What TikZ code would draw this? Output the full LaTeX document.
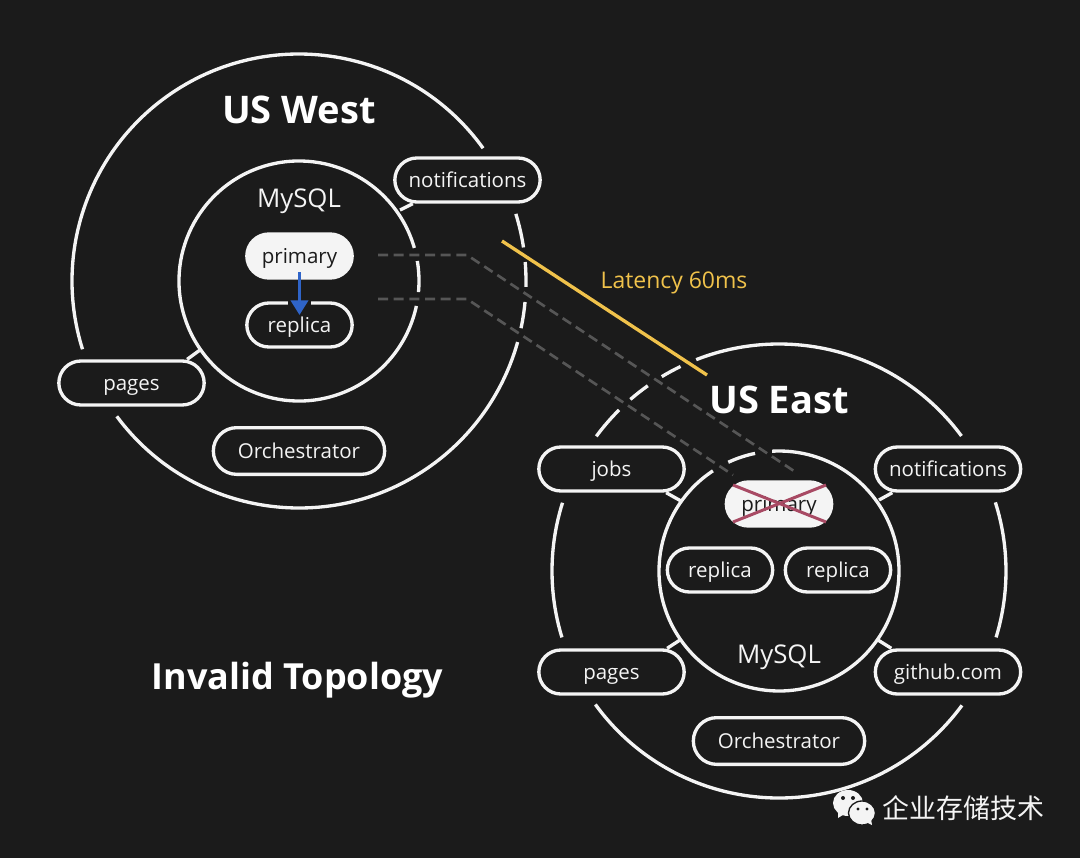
\documentclass[tikz,border=0pt]{standalone}
\usepackage{fontspec}
\setmainfont{Open Sans}
\newfontfamily\cjkfont{Noto Sans CJK SC}
\usetikzlibrary{shapes.misc,arrows.meta,calc}
\definecolor{bgdark}{HTML}{1B1B1B}
\definecolor{ringwhite}{HTML}{F4F4F4}
\definecolor{dashgrey}{HTML}{565656}
\definecolor{lateyellow}{HTML}{F0C24B}
\definecolor{arrowblue}{HTML}{2F64C8}
\definecolor{crossred}{HTML}{A84A64}
\tikzset{
  ring/.style={ringwhite, line width=0.1cm},
  pill/.style={rounded rectangle, draw=ringwhite, line width=0.1cm, inner sep=0pt,
    minimum height=1.32cm, minimum width=#1, text=ringwhite,
    text height=0.5cm, text depth=0.08cm,
    font=\fontsize{17.5}{20}\selectfont},
  solidpill/.style={pill=#1, fill=ringwhite, text=bgdark},
  title/.style={text=white, font=\fontsize{32.5}{36}\selectfont\bfseries},
  dbname/.style={text=ringwhite, font=\fontsize{22}{26}\selectfont},
  link/.style={dashgrey, line width=0.08cm, dash pattern=on 0.3cm off 0.17cm},
}
\begin{document}
\begin{tikzpicture}[x=0.03cm,y=0.03cm]
\fill [bgdark] (0,-858) rectangle (1080,0);
\useasboundingbox (0,-858) rectangle (1080,0);

\draw [ring] (299,-281) ++(35.8:227) arc (35.8:197.5:227);
\draw [ring] (299,-281) ++(216.6:227) arc (216.6:344.4:227);
\draw [ring] (299,-281) ++(-12:227) arc (-12:-5.3:227);
\draw [ring] (299,-281) ++(-1.5:227) arc (-1.5:4.8:227);
\draw [ring] (299,-281) ++(8.5:227) arc (8.5:17.2:227);
\draw [ring] (299,-281) ++(16:120) arc (16:348:120);
\draw [ring] (299,-281) ++(-5.3:120) arc (-5.3:9.6:120);

\draw [ring] (779,-571) ++(36.5:227) arc (36.5:111.4:227);
\draw [ring] (779,-571) ++(115.7:227) arc (115.7:121.1:227);
\draw [ring] (779,-571) ++(125.3:227) arc (125.3:130.9:227);
\draw [ring] (779,-571) ++(134.8:227) arc (134.8:143.6:227);
\draw [ring] (779,-571) ++(162.5:227) arc (162.5:197:227);
\draw [ring] (779,-571) ++(216:227) arc (216:323.7:227);
\draw [ring] (779,-571) ++(-17:227) arc (-17:17.6:227);
\draw [ring] (779,-571) ++(123.4:120) arc (123.4:453.3:120);
\draw [ring] (779,-571) ++(101.5:120) arc (101.5:115:120);

\coordinate (wlinkA) at (378,-255);
\coordinate (wbendA) at (467,-255);
\coordinate (elinkA) at (797,-473);
\coordinate (wlinkB) at (378,-299);
\coordinate (wbendB) at (467,-299);
\coordinate (elinkB) at (733,-475);
\draw [link] (wlinkA) -- (wbendA) -- (elinkA);
\draw [link] (wlinkB) -- (wbendB) -- (elinkB);

\coordinate (lateA) at (502,-241);
\coordinate (lateB) at (707,-375);
\draw [lateyellow, line width=0.1cm] (lateA) -- (lateB);

\node [pill=4.36cm] (wnotif) at (467.5,-180){notifications};
\node [solidpill=3.16cm] (wprimary) at (299.5,-256){primary};
\node [pill=3.16cm] (wreplica) at (299.5,-325){replica};
\node [pill=4.36cm] (wpages) at (131.5,-383){pages};
\node [pill=5.14cm, minimum height=1.4cm] (worch) at (299,-451){Orchestrator};

\node [pill=4.36cm] (ejobs) at (611.5,-469){jobs};
\node [pill=4.36cm] (enotif) at (948,-469){notifications};
\node [solidpill=3.16cm] (eprimary) at (779,-504){primary};
\node [pill=3.16cm] (ereplicaA) at (720,-570){replica};
\node [pill=3.16cm] (ereplicaB) at (838,-570){replica};
\node [pill=4.36cm] (epages) at (611.5,-672){pages};
\node [pill=4.36cm] (egithub) at (948,-672){github.com};
\node [pill=5.14cm, minimum height=1.4cm] (eorch) at (779,-741){Orchestrator};

\coordinate (wtickA) at (400,-210);
\coordinate (wtickB) at (200,-350);
\coordinate (etickA) at (681,-501);
\coordinate (etickB) at (879,-500);
\coordinate (etickC) at (680,-640);
\coordinate (etickD) at (878,-640);
\draw [ring] (wtickA) -- ($(wnotif.south west)+(-4,0)$);
\draw [ring] (wtickB) -- ($(wpages.north east)+(5,0)$);
\draw [ring] (etickA) -- ($(ejobs.south east)+(4,0)$);
\draw [ring] (etickB) -- ($(enotif.south west)+(-5,0)$);
\draw [ring] (etickC) -- ($(epages.north east)+(5,0)$);
\draw [ring] (etickD) -- ($(egithub.north west)+(-6,0)$);

\fill [bgdark] (288,-297) rectangle (311,-307);
\draw [arrowblue, line width=0.09cm, shorten <=0.48cm, shorten >=0.3cm,
  -{Triangle[length=0.44cm,width=0.52cm]}] (wprimary.center) -- (wreplica.center);

\draw [crossred, line width=0.09cm] ($(eprimary.center)+(-46,19)$) -- ($(eprimary.center)+(47,-18)$);
\draw [crossred, line width=0.09cm] ($(eprimary.center)+(-46,-18)$) -- ($(eprimary.center)+(47,19)$);

\node [title] (westname) at (299,-110){US West};
\node [dbname] (westdb) at (299,-201){MySQL};
\node [title] (eastname) at (779,-399.5){US East};
\node [dbname] (eastdb) at (779,-657){MySQL};
\node [title, font=\fontsize{30.7}{36}\selectfont\bfseries] (invalid) at (297.5,-680){Invalid Topology};
\node [text=lateyellow, font=\fontsize{19.6}{22}\selectfont] (latency) at (674,-283){Latency 60ms};

\fill [ringwhite] (848,-803) ellipse (15 and 13);
\fill [ringwhite] (838,-810) -- (838,-818) -- (846,-813) -- cycle;
\draw [bgdark, fill=ringwhite, line width=0.04cm] (862,-813) ellipse (13.5 and 12);
\fill [ringwhite] (866,-822) -- (872,-825) -- (871,-819) -- cycle;
\fill [bgdark] (843,-798) circle (2);
\fill [bgdark] (853,-798) circle (2);
\fill [bgdark] (858,-809) circle (1.7);
\fill [bgdark] (867,-809) circle (1.7);
\node [text=ringwhite, font=\cjkfont\fontsize{23}{26}\selectfont] (wmark) at (963.5,-808){企业存储技术};
\end{tikzpicture}
\end{document}
